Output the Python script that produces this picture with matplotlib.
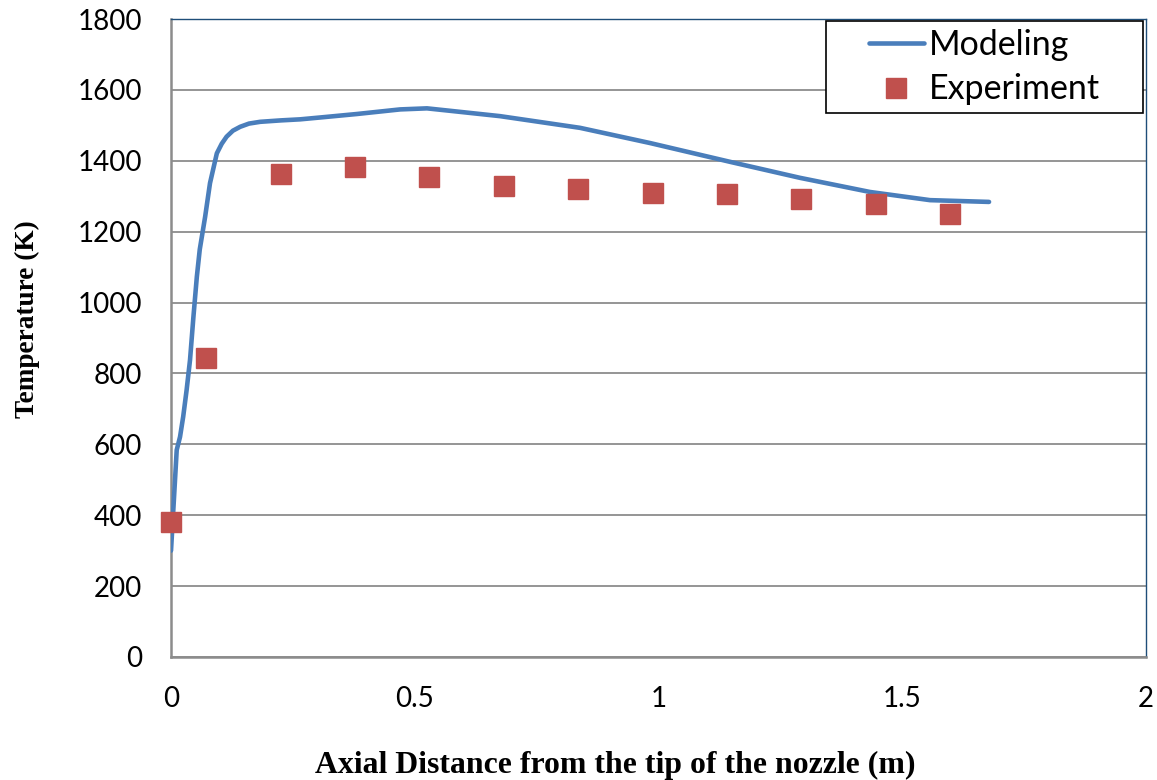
import matplotlib.pyplot as plt
from matplotlib.patches import Rectangle

# model curve
model_x = [0.0, 0.0117, 0.0185, 0.025, 0.032, 0.039, 0.046, 0.053, 0.059, 0.070,
           0.080, 0.094, 0.104, 0.114, 0.127, 0.142, 0.160, 0.183, 0.225, 0.265,
           0.312, 0.381, 0.470, 0.525, 0.573, 0.675, 0.839, 0.983, 1.147, 1.290,
           1.434, 1.557, 1.678]
model_T = [300, 584, 621, 678, 753, 838, 960, 1073, 1150, 1242,
           1337, 1421, 1448, 1468, 1485, 1496, 1505, 1510, 1514, 1517,
           1523, 1532, 1545, 1548, 1541, 1526, 1493, 1450, 1397, 1352,
           1312, 1289, 1284]

# experiment points
exp_x = [0.0, 0.072, 0.226, 0.377, 0.529, 0.683, 0.835, 0.989, 1.141, 1.292, 1.446, 1.598]
exp_T = [381, 843, 1363, 1382, 1354, 1329, 1320, 1309, 1306, 1292, 1278, 1250]

xticks = [0, 0.5, 1, 1.5, 2]
xtick_labels = ["0", "0.5", "1", "1.5", "2"]
yticks = list(range(0, 2000, 200))

fig = plt.figure(figsize=(11.57, 7.8), dpi=100)
ax = fig.add_axes([0.1478, 0.1577, 0.8427, 0.8179])

ax.plot(model_x, model_T, color="#4A7EBB", lw=3.3, label="Modeling", zorder=3,
        solid_capstyle="round", solid_joinstyle="round")
ax.plot(exp_x, exp_T, "s", color="#C0504D", ms=14, mec="#C0504D", label="Experiment",
        clip_on=False, zorder=4)

ax.set_xlim(0, 2)
ax.set_ylim(0, 1800)
ax.set_xticks(xticks)
ax.set_xticklabels(xtick_labels)
ax.set_yticks(yticks)
ax.grid(axis="y", color="#8C8C8C", lw=1.3)
ax.set_axisbelow(True)

for s in ["left", "bottom"]:
    ax.spines[s].set_color("#8C8C8C")
    ax.spines[s].set_linewidth(1.8)
for s in ["top", "right"]:
    ax.spines[s].set_color("#1F4E79")
    ax.spines[s].set_linewidth(1.0)

ax.tick_params(length=0, labelsize=20, pad=21)
for lab in ax.get_xticklabels() + ax.get_yticklabels():
    lab.set_family("Lato")

ax.set_xlabel("Axial Distance from the tip of the nozzle (m)", family="Liberation Serif",
              fontweight="bold", fontsize=22.9, labelpad=28)
ax.xaxis.label.set_x(0.456)
ax.set_ylabel("Temperature (K)", family="Liberation Serif",
              fontweight="bold", fontsize=19.6, labelpad=27)
ax.yaxis.label.set_y(0.53)

# legend frame
fx0, fx1 = (826 - 171) / 975, (1143 - 171) / 975
fy0, fy1 = 1 - (113 - 19) / 638, 1 - (21 - 19) / 638
ax.add_patch(Rectangle((fx0, fy0), fx1 - fx0, fy1 - fy0, transform=ax.transAxes,
                       facecolor="white", edgecolor="black", lw=1.2, zorder=5))
leg = ax.legend(loc="center", bbox_to_anchor=((fx0 + fx1) / 2, (fy0 + fy1) / 2),
                prop={"family": "Lato", "size": 24.5}, frameon=False,
                handlelength=1.6, handletextpad=0.15, labelspacing=0.38,
                borderpad=0, borderaxespad=0)
leg.set_zorder(6)

fig.savefig("out.png", dpi=100)
